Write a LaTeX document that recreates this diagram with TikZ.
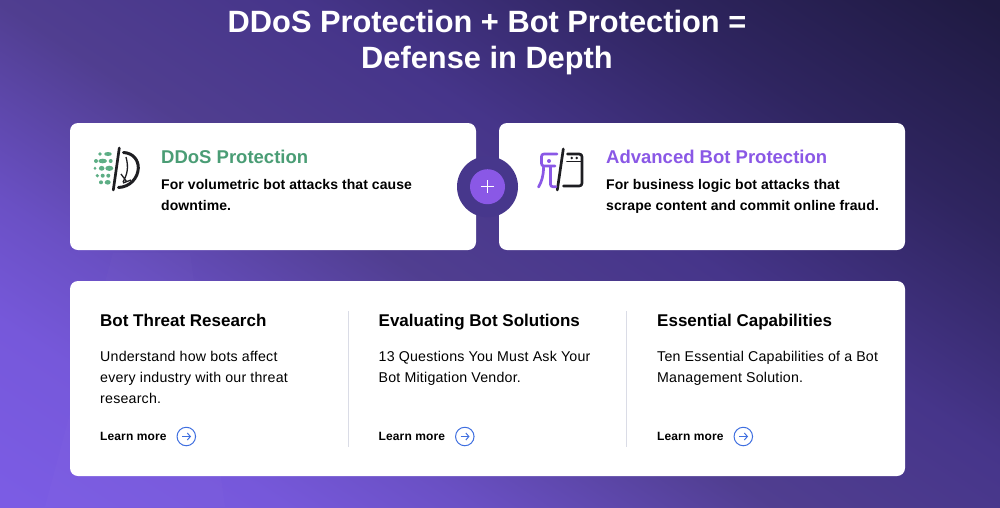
\documentclass[tikz,border=0pt]{standalone}
\usepackage{fontspec}
\setmainfont{Liberation Sans}
\newfontfamily\bfont{Liberation Sans}[LetterSpace=0.6]
\newfontfamily\nfont{Liberation Sans}[LetterSpace=1.5]
\newfontfamily\lfont{Liberation Sans}[LetterSpace=1]
\usetikzlibrary{arrows.meta}
\definecolor{ddosgreen}{HTML}{4A9D75}
\definecolor{dotgreen}{HTML}{5DAE85}
\definecolor{botpurple}{HTML}{8A58E6}
\definecolor{ringc}{HTML}{47378C}
\definecolor{linkblue}{HTML}{3F6FE0}
\definecolor{divc}{HTML}{DADCE6}
\definecolor{inkc}{HTML}{1E1E22}
\definecolor{bga}{HTML}{7B5CE4}
\definecolor{bgb}{HTML}{7658DA}
\definecolor{bgc}{HTML}{6A50C4}
\definecolor{bgd}{HTML}{503E90}
\definecolor{bge}{HTML}{46358A}
\definecolor{bgf}{HTML}{2F2560}
\definecolor{bgg}{HTML}{1F1A42}
\pgfdeclarehorizontalshading{bgshade}{100bp}{
  color(0bp)=(bga);color(27bp)=(bga);color(34bp)=(bgb);color(39bp)=(bgc);color(47bp)=(bgd);color(55bp)=(bge);color(64bp)=(bgf);color(73bp)=(bgg);color(100bp)=(bgg)}
\tikzset{
  cardbox/.style={fill=white,rounded corners=8pt,draw=none},
  ttl/.style={text=white,inner sep=0pt,font=\bfseries\fontsize{30.8}{37}\selectfont,anchor=base},
  cardhead/.style={inner sep=0pt,anchor=base west,font=\bfseries\fontsize{18.5}{23}\selectfont},
  cardtext/.style={inner sep=0pt,anchor=base west,text=black,font=\bfont\bfseries\fontsize{14}{21}\selectfont},
  colhead/.style={inner sep=0pt,anchor=base west,text=black,font=\bfseries\fontsize{17}{22}\selectfont},
  coltext/.style={inner sep=0pt,anchor=base west,text=black,font=\nfont\fontsize{14.2}{21}\selectfont},
  learn/.style={inner sep=0pt,anchor=base west,text=black,font=\lfont\bfseries\fontsize{12}{15}\selectfont},
  divline/.style={draw=divc,line width=0.8pt},
  ink/.style={draw=inkc,line width=2.7pt,line cap=round,line join=round,fill=none},
  pur/.style={draw=botpurple,line width=2.7pt,line cap=round,line join=round,fill=none},
  gdot/.style={fill=dotgreen,draw=none},
  gocirc/.style={circle,draw=linkblue,line width=1pt,minimum size=18.5pt,inner sep=0pt,fill=white},
  goarrow/.style={linkblue,line width=1pt,-{Straight Barb[length=3pt,width=7pt]}}
}
\begin{document}
\begin{tikzpicture}[x=1pt,y=-1pt]
\useasboundingbox (0,0) rectangle (1000,507);
\begin{scope}
\clip (0,0) rectangle (1000,507);
\shade[shading=bgshade,shading angle=57] (-20,-267) rectangle (1020,773);
\fill[white,opacity=0.015] (45,507) -- (113,253) -- (190,253) -- (225,507) -- cycle;
\end{scope}
\node[ttl] (title1) at (487,32) {DDoS Protection + Bot Protection =};
\node[ttl] (title2) at (487,68) {Defense in Depth};
\fill[cardbox] (70,123) rectangle (476,250);
\fill[cardbox] (499,123) rectangle (905,250);
\fill[cardbox] (70,281) rectangle (905,476);
\fill[ringc] (487.5,186.7) circle (30.5);
\fill[botpurple] (487.5,186.7) circle (17.5);
\draw[white,line width=1.3pt] (481,186.7) -- (494,186.7) (487.5,180.2) -- (487.5,193.2);
% DDoS icon
\draw[ink] (119.3,148) -- (113.3,190);
\draw[ink,line width=3pt] (123.5,152.5) .. controls (133,153) and (138.5,160) .. (138.3,168) .. controls (138,178) and (130,187) .. (118.5,187.5);
\draw[inkc,line width=1.3pt] (126,157) .. controls (129,168) and (127,175) .. (123,182) (121,174) -- (127,182) (123,183) -- (131,180);
\foreach \x/\y/\w/\hh in {100/154/1.8/1.8,108/154/3.8/2,96/161/2/2,102.7/161/4.3/2.3,110.7/161/2/2,95/168.3/1.5/1.6,101.7/168.3/2.8/2.4,109.3/168.3/4/2.6,97.3/175.7/1.8/1.8,102.7/175.7/2/2,108.3/175.7/2/2,101/182.3/2/2,107.7/182.3/3/2.3}
  \fill[gdot] (\x,\y) ellipse ({\w} and {\hh});
\node[cardhead,text=ddosgreen] (h1) at (161,163) {DDoS Protection};
\node[cardtext] (t1a) at (161,189) {For volumetric bot attacks that cause};
\node[cardtext] (t1b) at (161,210) {downtime.};
% Bot icon
\draw[ink] (563.3,149) -- (557.3,190);
\draw[ink] (567.5,154) -- (579,154) .. controls (581,154) and (582,155) .. (582,157) -- (582,183) .. controls (582,185) and (581,186) .. (579,186) -- (563.5,186);
\draw[ink,line width=1.6pt] (567,161.5) -- (581,161.5);
\fill[inkc] (571.7,158) circle (1.3) (576.7,158) circle (1.3);
\draw[pur] (557,154) -- (544,154) .. controls (542.5,154) and (541.5,155) .. (541.5,156.5) -- (541.5,163.5) .. controls (541.5,165) and (542.5,166) .. (544,166) -- (555,166);
\fill[botpurple] (549,161) circle (2);
\draw[pur] (550.5,167) -- (550.5,184.5) .. controls (550.5,186) and (551.5,186.7) .. (553,186.7) -- (556,186.7);
\draw[pur] (543.5,167.5) .. controls (543.5,176) and (541.5,182) .. (538.5,187);
\node[cardhead,text=botpurple] (h2) at (606,163) {Advanced Bot Protection};
\node[cardtext] (t2a) at (606,189) {For business logic bot attacks that};
\node[cardtext] (t2b) at (606,210) {scrape content and commit online fraud.};
% dividers
\draw[divline] (348.5,311) -- (348.5,447);
\draw[divline] (626.5,311) -- (626.5,447);
% columns
\node[colhead] (c1) at (100,326) {Bot Threat Research};
\node[coltext] (c1a) at (100,361) {Understand how bots affect};
\node[coltext] (c1b) at (100,382) {every industry with our threat};
\node[coltext] (c1c) at (100,403) {research.};
\node[learn] (l1) at (100,440) {Learn more};
\node[gocirc] (g1) at (186.3,436.5) {};
\draw[goarrow] (182,436.5) -- (191,436.5);
\node[colhead] (c2) at (378.5,326) {Evaluating Bot Solutions};
\node[coltext] (c2a) at (378.5,361) {13 Questions You Must Ask Your};
\node[coltext] (c2b) at (378.5,382) {Bot Mitigation Vendor.};
\node[learn] (l2) at (378.5,440) {Learn more};
\node[gocirc] (g2) at (464.8,436.5) {};
\draw[goarrow] (460.5,436.5) -- (469.5,436.5);
\node[colhead] (c3) at (657,326) {Essential Capabilities};
\node[coltext] (c3a) at (657,361) {Ten Essential Capabilities of a Bot};
\node[coltext] (c3b) at (657,382) {Management Solution.};
\node[learn] (l3) at (657,440) {Learn more};
\node[gocirc] (g3) at (743.3,436.5) {};
\draw[goarrow] (739,436.5) -- (748,436.5);
\end{tikzpicture}
\end{document}
